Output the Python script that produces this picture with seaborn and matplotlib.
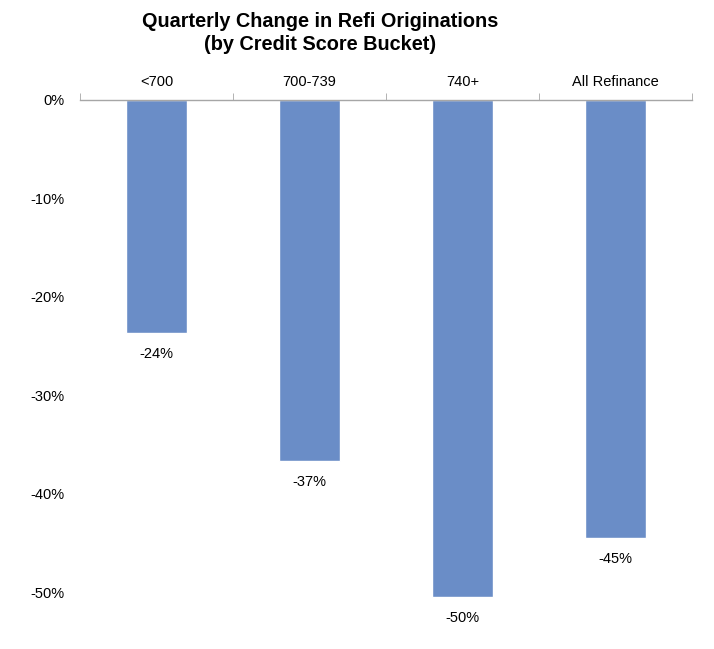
import numpy as np
import pandas as pd
import matplotlib
matplotlib.use("Agg")
import matplotlib.pyplot as plt
import seaborn as sns
from matplotlib.ticker import FuncFormatter

# data
buckets = ["<700", "700-739", "740+", "All Refinance"]
changes = [-0.237, -0.367, -0.505, -0.445]
labels = ["-24%", "-37%", "-50%", "-45%"]

sns.set_style("white")
plt.rcParams['font.family'] = ['Liberation Sans', 'DejaVu Sans']
plt.rcParams['text.color'] = 'black'
plt.rcParams['xtick.color'] = 'black'
plt.rcParams['ytick.color'] = 'black'

df = pd.DataFrame({"bucket": buckets, "change": changes})

fig = plt.figure(figsize=(7.14, 6.49), dpi=100)
ax = fig.add_axes([0.112, 0.057, 0.857, 0.789])

sns.barplot(data=df, x="bucket", y="change", color="#6A8DC7", width=0.4,
            saturation=1, ax=ax)

# value labels under each bar
for i, (v, lab) in enumerate(zip(changes, labels)):
    ax.annotate(lab, (i, v), xytext=(0, -10), textcoords="offset points",
                ha="center", va="top", fontsize=10.5, color="black")

ax.set_ylim(-0.52, 0)
ax.set_xlim(-0.5, 3.5)
ax.yaxis.set_major_formatter(FuncFormatter(lambda y, p: f"{round(y*100)+0:.0f}%"))
ax.set_yticks(np.arange(-0.5, 0.01, 0.1))

ax.xaxis.tick_top()
ax.xaxis.set_label_position("top")
ax.set_xlabel("")
ax.set_ylabel("")
ax.set_xticks(np.arange(-0.5, 3.6, 1), minor=True)
ax.tick_params(axis="x", which="major", length=0, pad=8, labelsize=10.5)
ax.tick_params(axis="x", which="minor", length=5, color="#A6A6A6", top=True, direction="out")
ax.tick_params(axis="y", length=0, pad=11, labelsize=10.5)

for s in ["left", "right", "bottom"]:
    ax.spines[s].set_visible(False)
ax.spines["top"].set_color("#A6A6A6")
ax.spines["top"].set_linewidth(1)

fig.suptitle("Quarterly Change in Refi Originations\n(by Credit Score Bucket)",
             x=0.448, y=0.982, fontsize=14.3, fontweight="bold",
             linespacing=1.28, color="black")

plt.savefig("out.png", dpi=100)
